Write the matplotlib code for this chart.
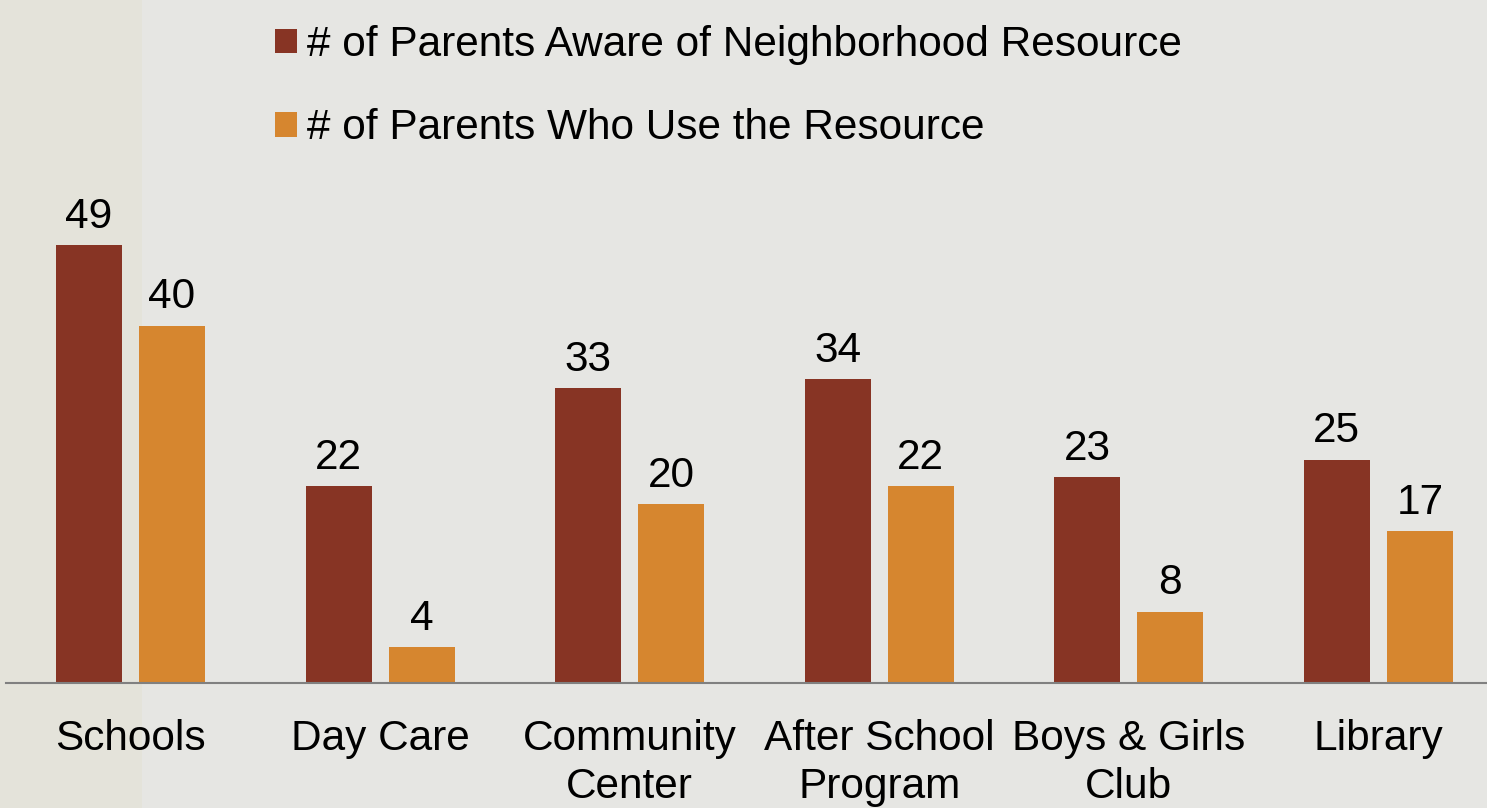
import matplotlib
matplotlib.use("Agg")
import matplotlib.pyplot as plt
import numpy as np
from matplotlib.patches import Patch, Rectangle

plt.rcParams["font.family"] = ["Liberation Sans", "DejaVu Sans"]

categories = ["Schools", "Day Care", "Community\nCenter", "After School\nProgram",
              "Boys & Girls\nClub", "Library"]
aware = [49, 22, 33, 34, 23, 25]
use = [40, 4, 20, 22, 8, 17]
series_names = ["# of Parents Aware of Neighborhood Resource",
                "# of Parents Who Use the Resource"]

dark_red = "#873424"
orange = "#d6862f"
fs = 30.5

fig = plt.figure(figsize=(14.87, 8.08), dpi=100)
fig.patch.set_facecolor("#e6e6e3")
# beige strip at the left edge
fig.add_artist(Rectangle((0, 0), 142 / 1487, 1, transform=fig.transFigure,
                         facecolor="#e4e3da", edgecolor="none", zorder=-10))

ax = fig.add_axes([6 / 1487, 125 / 808, 1481 / 1487, 523 / 808])
ax.set_facecolor("none")

x = np.arange(len(categories))
w = 66 / 249.6
off = (66 + 17) / 2 / 249.6
b1 = ax.bar(x - off, aware, w, color=dark_red, label=series_names[0])
b2 = ax.bar(x + off, use, w, color=orange, label=series_names[1])

for bars, vals in ((b1, aware), (b2, use)):
    for rect, v in zip(bars, vals):
        ax.annotate(str(v), (rect.get_x() + rect.get_width() / 2, v),
                    xytext=(0, 6), textcoords="offset points",
                    ha="center", va="bottom", fontsize=fs)

ax.set_xlim(-0.499, 5.435)
ax.set_ylim(0, 523 / 8.935)
ax.set_xticks(x)
ax.set_xticklabels(categories, fontsize=fs, linespacing=1.25)
ax.tick_params(axis="x", length=0, pad=26)
ax.set_yticks([])
for s in ["top", "left", "right"]:
    ax.spines[s].set_visible(False)
ax.spines["bottom"].set_color("#808080")
ax.spines["bottom"].set_linewidth(1.5)

handles = [Patch(facecolor=dark_red), Patch(facecolor=orange)]
fig.legend(handles, series_names, loc="upper left",
           bbox_to_anchor=(275 / 1487, 1 - 25 / 808), frameon=False,
           fontsize=fs, handlelength=0.52, handleheight=0.52,
           handletextpad=0.23, labelspacing=1.02,
           borderpad=0, borderaxespad=0)

fig.savefig("out.png", dpi=100, facecolor=fig.get_facecolor())
